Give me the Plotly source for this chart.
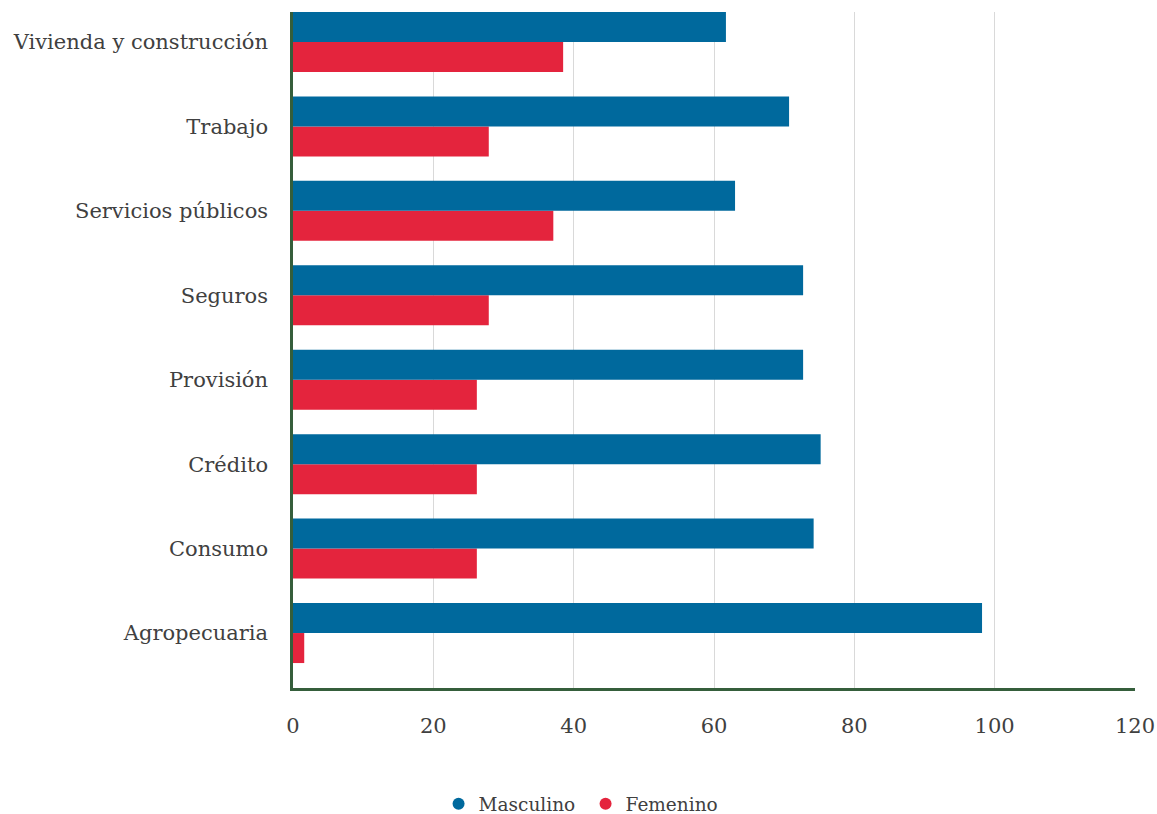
import plotly.graph_objects as go

categories = ["Agropecuaria", "Consumo", "Crédito", "Provisión", "Seguros",
              "Servicios públicos", "Trabajo", "Vivienda y construcción"]
masculino = [98.2, 74.2, 75.2, 72.7, 72.7, 63.0, 70.7, 61.7]
femenino = [1.6, 26.2, 26.2, 26.2, 27.9, 37.1, 27.9, 38.5]
x_ticks = [0, 20, 40, 60, 80, 100, 120]

BLUE = "#00699D"
RED = "#E4243D"
AXIS = "#355E3B"
FONT = "DejaVu Serif"
TXT = "#404040"
FS = 21

fig = go.Figure()
fig.add_trace(go.Bar(y=categories, x=femenino, orientation="h", name="Femenino",
                     marker=dict(color=RED, line=dict(width=0)), showlegend=False))
fig.add_trace(go.Bar(y=categories, x=masculino, orientation="h", name="Masculino",
                     marker=dict(color=BLUE, line=dict(width=0)), showlegend=False))
# legend entries with circle markers
fig.add_trace(go.Scatter(x=[None], y=[None], mode="markers", name="Masculino",
                         marker=dict(color=BLUE, size=13, symbol="circle")))
fig.add_trace(go.Scatter(x=[None], y=[None], mode="markers", name="Femenino",
                         marker=dict(color=RED, size=13, symbol="circle")))

fig.update_layout(
    width=1157, height=814,
    margin=dict(l=293, r=22, t=12, b=126, autoexpand=False),
    paper_bgcolor="white", plot_bgcolor="white",
    barmode="group", bargap=0.289, bargroupgap=0,
    font=dict(family=FONT, size=FS, color=TXT),
    legend=dict(orientation="h", xref="container", yref="container",
                x=0.5061, xanchor="center", y=0.012, yanchor="middle",
                font=dict(family=FONT, size=18.5, color=TXT),
                entrywidth=102, entrywidthmode="pixels",
                itemsizing="constant"),
    xaxis=dict(range=[0, 120], tickvals=x_ticks, showgrid=True,
               gridcolor="#D9D9D9", gridwidth=1, zeroline=False,
               showline=True, linecolor=AXIS, linewidth=2.5, automargin=False,
               ticks="", ticklabelstandoff=17,
               tickfont=dict(family=FONT, size=FS, color=TXT)),
    yaxis=dict(range=[-0.651, 7.355], showgrid=False, zeroline=False,
               showline=True, linecolor=AXIS, linewidth=2.5, automargin=False,
               ticks="", ticklabelstandoff=18,
               tickfont=dict(family=FONT, size=FS, color=TXT)),
)

fig.write_html("out.html", config={"displayModeBar": False},
               post_script="document.body.style.margin='0';document.body.style.overflow='hidden';")
